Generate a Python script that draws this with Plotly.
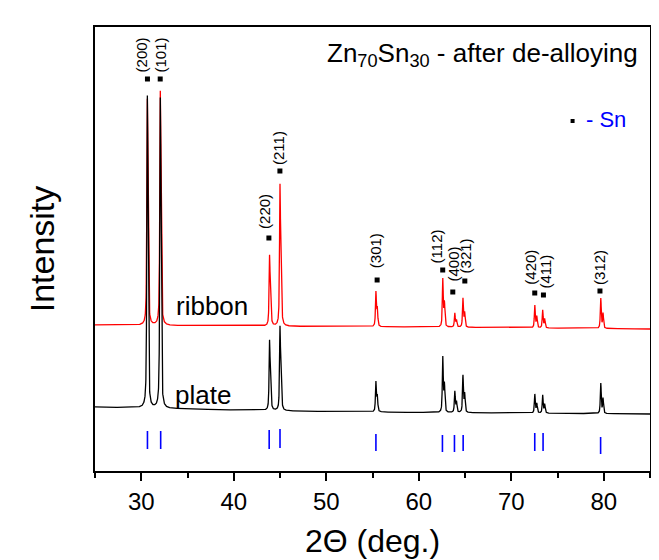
import numpy as np
import plotly.graph_objects as go

# ---------------- data ----------------
hkl_labels = ["(200)", "(101)", "(220)", "(211)", "(301)", "(112)",
              "(400)", "(321)", "(420)", "(411)", "(312)"]
peak_pos = [30.65, 32.05, 43.87, 45.0, 55.37, 62.6, 63.9, 64.78, 72.55, 73.4, 79.68]
ribbon_top = [372, 380, 216, 287, 180, 193, 158, 173, 166, 161, 173]
plate_top = [375, 373, 131, 145, 90, 115, 80, 96, 77, 76, 88]

ribbon_base_x = [25, 40, 60, 85]
ribbon_base = [146, 145, 144, 142]
plate_base_x = [25, 30, 40, 50, 60, 70, 85]
plate_base = [64, 63, 61, 59.5, 58.5, 58, 57]

# reference (Sn) stick positions and extents
ref_pos = [30.67, 32.1, 43.83, 45.0, 55.37, 62.56, 63.86, 64.8, 72.54, 73.44, 79.66]
ref_low = [22, 22, 22, 23, 20, 19, 19, 20, 20, 20, 17]
ref_high = [40, 40, 41, 42, 37, 36, 36, 36, 38, 38, 34]

# marker squares and hkl label positions
square_x = [30.67, 32.05, 43.8, 44.99, 55.5, 62.59, 63.68, 64.98, 72.54, 73.48, 79.59]
square_y = [392, 392, 233, 300, 191, 201, 179, 190, 178, 176, 180]
label_x = [30.02, 32.08, 43.26, 44.78, 55.29, 61.91, 63.65, 65.05, 71.99, 73.6, 79.48]
label_y = [416, 416, 260, 323, 220, 225, 207, 215, 204, 199, 204]

FONT = "Liberation Sans, Arial, sans-serif"

# ---------------- build patterns ----------------
grid = np.arange(25, 85.0001, 0.01)


def profile(x, x0, w=0.12, eta=0.6):
    t = (x - x0) / w
    return eta / (1 + 4 * t * t) + (1 - eta) * np.exp(-4 * np.log(2) * t * t)


def pattern(tops, bx, by):
    base = np.interp(grid, bx, by)
    y = base.copy()
    for x0, top in zip(peak_pos, tops):
        d = 2 * np.degrees(np.arcsin(1.54443 / 1.54056 * np.sin(np.radians(x0 / 2)))) - x0
        p = profile(grid, x0) + 0.5 * profile(grid, x0 + d)
        p = p / p.max()
        h = top - np.interp(x0, bx, by)
        y += h * p
    return y


ribbon = pattern(ribbon_top, ribbon_base_x, ribbon_base)
plate = pattern(plate_top, plate_base_x, plate_base)

fig = go.Figure()
fig.add_trace(go.Scatter(x=grid, y=ribbon, mode="lines",
                         line=dict(color="#FF0000", width=1.3), name="ribbon"))
fig.add_trace(go.Scatter(x=grid, y=plate, mode="lines",
                         line=dict(color="#000000", width=1.3), name="plate"))

sx, sy = [], []
for p, lo, hi in zip(ref_pos, ref_low, ref_high):
    sx += [p, p, None]
    sy += [lo, hi, None]
fig.add_trace(go.Scatter(x=sx, y=sy, mode="lines",
                         line=dict(color="#0000FF", width=1.6), name="Sn ref"))

fig.add_trace(go.Scatter(x=square_x, y=square_y, mode="markers",
                         marker=dict(symbol="square", size=5, color="black"),
                         name="Sn"))
# legend square
fig.add_trace(go.Scatter(x=[76.63], y=[350], mode="markers",
                         marker=dict(symbol="square", size=4, color="black"),
                         name="legend"))

annotations = []
for t, x, y in zip(hkl_labels, label_x, label_y):
    annotations.append(dict(x=x, y=y, xref="x", yref="y", text=t, textangle=-90,
                            showarrow=False, xanchor="center", yanchor="middle",
                            font=dict(family=FONT, size=15, color="black")))

annotations += [
    dict(x=0.982, xref="paper", y=417, yref="y",
         text="Zn<sub>70</sub>Sn<sub>30</sub> - after de-alloying",
         showarrow=False, xanchor="right", yanchor="middle",
         font=dict(family=FONT, size=26, color="black")),
    dict(x=77.9, xref="x", y=352, yref="y", text="- Sn", showarrow=False,
         xanchor="left", yanchor="middle",
         font=dict(family=FONT, size=22, color="#0000FF")),
    dict(x=37.6, xref="x", y=165, yref="y", text="ribbon", showarrow=False,
         xanchor="center", yanchor="middle",
         font=dict(family=FONT, size=26, color="black")),
    dict(x=36.7, xref="x", y=76, yref="y", text="plate", showarrow=False,
         xanchor="center", yanchor="middle",
         font=dict(family=FONT, size=26, color="black")),
]

fig.update_layout(
    width=659, height=560,
    margin=dict(l=87, r=17, t=19, b=97),
    paper_bgcolor="white", plot_bgcolor="white",
    showlegend=False,
    font=dict(family=FONT, color="black"),
    annotations=annotations,
    xaxis=dict(
        range=[25, 85], tick0=0, dtick=10,
        ticks="outside", ticklen=8, tickwidth=1.5, tickcolor="black",
        minor=dict(ticks="outside", ticklen=5, tickwidth=1.5, tickcolor="black", dtick=5),
        showline=True, linewidth=1.8, linecolor="black", mirror=True,
        showgrid=False, zeroline=False,
        tickfont=dict(family=FONT, size=24, color="black"),
        title=dict(text="2Θ (deg.)", font=dict(family=FONT, size=32, color="black"),
                   standoff=16),
    ),
    yaxis=dict(
        range=[0, 444], showticklabels=False, ticks="",
        showline=True, linewidth=1.8, linecolor="black", mirror=True,
        showgrid=False, zeroline=False,
        title=dict(text="Intensity", font=dict(family=FONT, size=34, color="black"),
                   standoff=28),
    ),
)

fig.write_html("out.html")
